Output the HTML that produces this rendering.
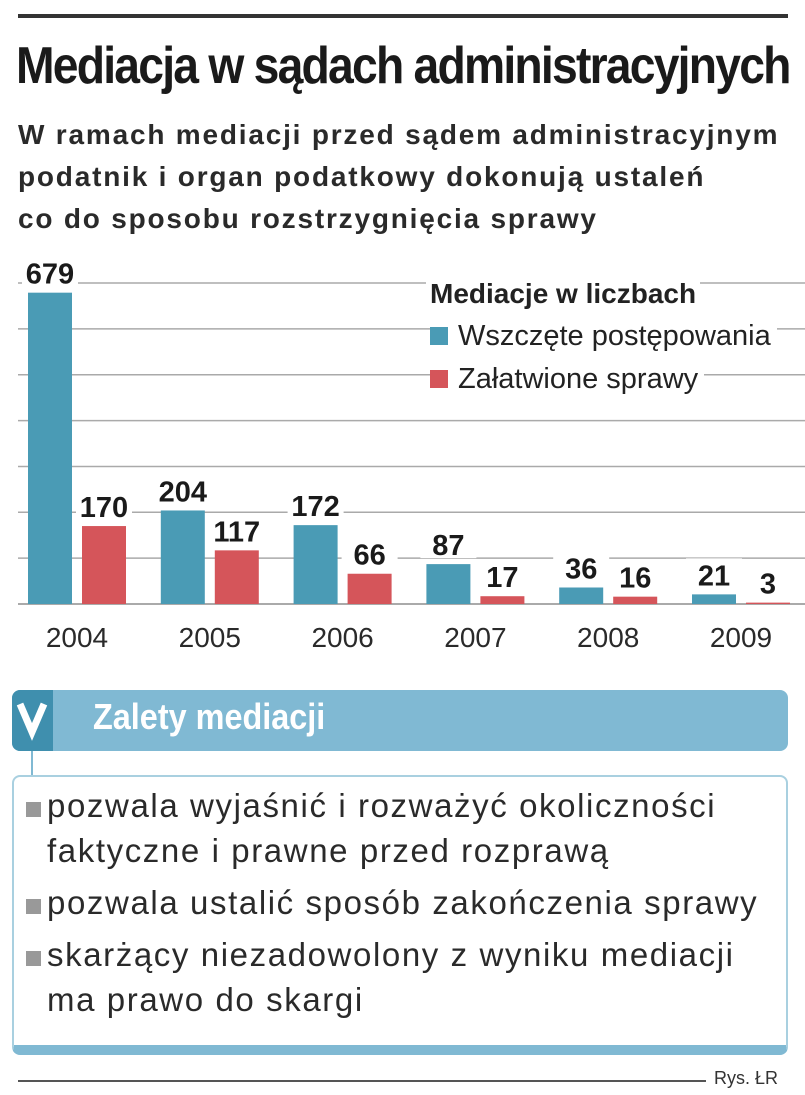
<!DOCTYPE html>
<html><head><meta charset="utf-8"><style>
body{margin:0;width:805px;height:1095px;background:#fff;font-family:"Liberation Sans",sans-serif;position:relative;overflow:hidden;color:#222}
.a{position:absolute;white-space:nowrap}
</style></head><body>
<div class="a" style="left:18px;top:14px;width:770px;height:4px;background:#333"></div>
<div class="a" style="left:16px;top:36px;font-size:52px;font-weight:bold;letter-spacing:-2px;transform:scaleX(0.89);transform-origin:left;color:#1a1a1a">Mediacja w sądach administracyjnych</div>
<div class="a" style="left:18px;top:114px;font-size:28px;font-weight:bold;line-height:42px;color:#2a2a2a;letter-spacing:1.8px">W ramach mediacji przed sądem administracyjnym<br>podatnik i organ podatkowy dokonują ustaleń<br>co do sposobu rozstrzygnięcia sprawy</div>
<svg class="a" style="left:0;top:250px" width="805" height="420" id="ch"></svg>
<div class="a" style="left:426px;top:278px;font-size:28px;font-weight:bold;background:#fff;padding:0 4px">Mediacje w liczbach</div>
<div class="a" style="left:430px;top:320px;font-size:29px;background:#fff;padding-right:6px"><span style="display:inline-block;width:18px;height:18px;background:#4a9bb5;margin-right:10px"></span>Wszczęte postępowania</div>
<div class="a" style="left:430px;top:363px;font-size:29px;background:#fff;padding-right:6px"><span style="display:inline-block;width:18px;height:18px;background:#d5555a;margin-right:10px"></span>Załatwione sprawy</div>
<div class="a" style="left:12px;top:690px;width:776px;height:61px;background:#80b9d3;border-radius:8px"></div>
<div class="a" style="left:12px;top:690px;width:41px;height:61px;background:#3f8fae;border-radius:8px 0 0 8px"><svg width="41" height="61"><polyline points="8,14 20,42 32,14" fill="none" stroke="#fff" stroke-width="7"/></svg></div>
<div class="a" style="left:93px;top:696px;font-size:36px;font-weight:bold;color:#fff;transform:scaleX(0.9);transform-origin:left">Zalety mediacji</div>
<div class="a" style="left:31px;top:751px;width:2px;height:24px;background:#80b9d3"></div>
<div class="a" style="left:12px;top:775px;width:772px;height:268px;border:2px solid #a9d0e0;border-bottom:10px solid #80b9d3;border-radius:8px"></div>
<div class="a" style="left:26px;top:783px;font-size:33px;line-height:45px;color:#2a2a2a;letter-spacing:1.6px">
<div><span style="display:inline-block;width:15px;height:15px;background:#999;margin-right:6px"></span>pozwala wyjaśnić i rozważyć okoliczności</div>
<div style="padding-left:21px;margin-bottom:7px">faktyczne i prawne przed rozprawą</div>
<div style="margin-bottom:7px"><span style="display:inline-block;width:15px;height:15px;background:#999;margin-right:6px"></span>pozwala ustalić sposób zakończenia sprawy</div>
<div><span style="display:inline-block;width:15px;height:15px;background:#999;margin-right:6px"></span>skarżący niezadowolony z wyniku mediacji</div>
<div style="padding-left:21px">ma prawo do skargi</div>
</div>
<div class="a" style="left:18px;top:1080px;width:688px;height:2px;background:#555"></div>
<div class="a" style="left:714px;top:1068px;font-size:18px;color:#333">Rys. ŁR</div>
<script>
const years=["2004","2005","2006","2007","2008","2009"];
const started=[679,204,172,87,36,21];
const resolved=[170,117,66,17,16,3];
const gridTicks=[0,100,200,300,400,500,600,700];
const svg=document.getElementById('ch');const NS='http://www.w3.org/2000/svg';
const y=v=>354-v*0.4585;
const x=i=>28+i*132.8;
function mk(t,a){const e=document.createElementNS(NS,t);for(const k in a)e.setAttribute(k,a[k]);svg.appendChild(e);return e;}
gridTicks.forEach(t=>{const l=mk('line',{x1:18,x2:805,y1:y(t),y2:y(t),stroke:'#aaa','stroke-width':t===0?2:1.5});

});
years.forEach((yr,i)=>{
 [[started[i],'#4a9bb5',0],[resolved[i],'#d5555a',54]].forEach(([v,c,o])=>{
  const r=mk('rect',{x:x(i)+o,y:y(v),width:44,height:354-y(v),fill:c});
  
  
  const bg=mk('rect',{x:x(i)+o-6,y:y(v)-36,width:56,height:30,fill:'#fff'});
  
  
  const t=mk('text',{x:x(i)+o+22,y:y(v)-9,'text-anchor':'middle','font-size':29,'font-weight':'bold',fill:'#1a1a1a','font-family':'Liberation Sans'});
  t.textContent=v;
  
  
 });
 const t=mk('text',{x:x(i)+49,y:397,'text-anchor':'middle','font-size':28,fill:'#2a2a2a','font-family':'Liberation Sans'});
 t.textContent=yr;
 
 
});
</script>
</body></html>
